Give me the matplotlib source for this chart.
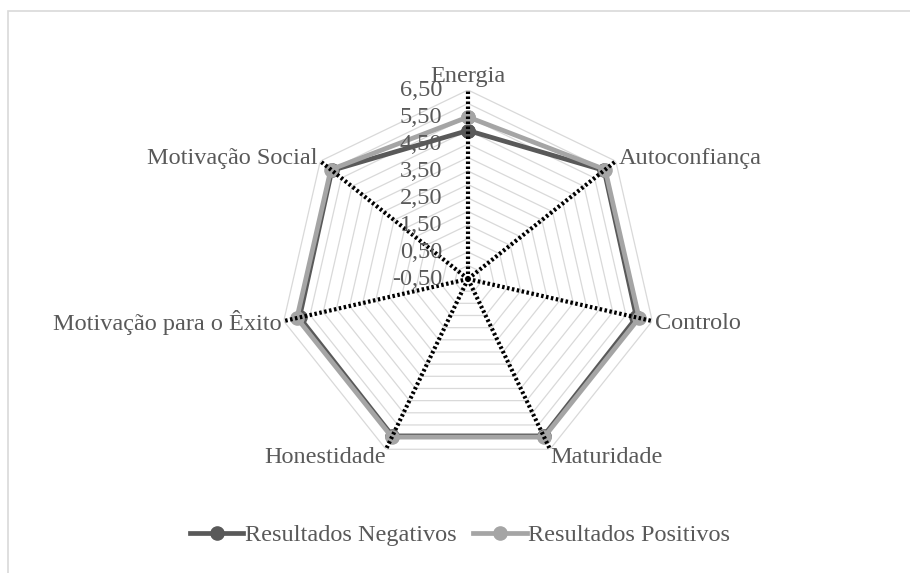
import numpy as np
import matplotlib
matplotlib.use("Agg")
import matplotlib.pyplot as plt
from matplotlib.patches import Rectangle
from matplotlib.transforms import offset_copy

# data
categorias = ['Energia', 'Autoconfiança', 'Controlo', 'Maturidade',
              'Honestidade', 'Motivação para o Êxito', 'Motivação Social']
negativos = [5.0, 5.95, 5.9, 5.95, 5.95, 5.9, 5.95]
positivos = [5.5, 6.0, 6.0, 6.0, 6.0, 6.0, 6.0]
niveis_grelha = [-0.5, 0.0, 0.5, 1.0, 1.5, 2.0, 2.5, 3.0, 3.5, 4.0, 4.5, 5.0, 5.5, 6.0, 6.5]
niveis_rotulo = [-0.5, 0.5, 1.5, 2.5, 3.5, 4.5, 5.5, 6.5]

plt.rcParams['font.family'] = ['Liberation Serif', 'DejaVu Serif']
cor_texto = '#595959'
fs = 17.5

n = len(categorias)
ang = np.arange(n) * 2 * np.pi / n
ang_f = np.append(ang, ang[0])

fig = plt.figure(figsize=(9.1, 5.73), dpi=100)
fig.patches.append(Rectangle((8 / 910, -0.1), 1.2, 1 - 11 / 573 + 0.1,
                             transform=fig.transFigure, fill=False,
                             edgecolor='#d9d9d9', lw=1.2))

cx, cy = 468 / 910, 1 - 279 / 573
w, h = 2 * 189 / 910, 2 * 189 / 573
ax = fig.add_axes([cx - w / 2, cy - h / 2, w, h], projection='polar')
ax.set_theta_zero_location('N')
ax.set_theta_direction(-1)
ax.set_ylim(-0.5, 6.5)
ax.grid(False)
ax.spines['polar'].set_visible(False)
ax.set_xticks([])
ax.set_yticks([])
ax.patch.set_alpha(0)

# polygon gridlines
for lv in niveis_grelha:
    ax.plot(ang_f, [lv] * (n + 1), color='#d9d9d9', lw=0.9, zorder=1)

# series
neg = np.append(negativos, negativos[0])
pos = np.append(positivos, positivos[0])
ax.plot(ang_f, neg, color='#595959', lw=3.4, marker='o', ms=9.5,
        label='Resultados Negativos', zorder=3, clip_on=False)
ax.plot(ang_f, pos, color='#a5a5a5', lw=3.4, marker='o', ms=9.5,
        label='Resultados Positivos', zorder=4, clip_on=False)

# spokes
for a in ang:
    ax.plot([a, a], [-0.5, 6.5], color='black', lw=3.0,
            linestyle=(0, (0.6, 0.6)), zorder=5, clip_on=False)

# radial labels
tr = offset_copy(ax.transData, fig=fig, x=-26, y=0, units='dots')
for lv in niveis_rotulo:
    ax.text(0, lv, f'{lv:.2f}'.replace('.', ','), transform=tr,
            ha='right', va='center', fontsize=fs, color=cor_texto, zorder=6)

# category labels
posicoes = [('center', 'bottom', 0, 3),
            ('left', 'center', 3, 3),
            ('left', 'center', 3, -2),
            ('left', 'top', 0, 2),
            ('right', 'top', 0, 2),
            ('right', 'center', -2, -1),
            ('right', 'center', -3, 3)]
for a, nome, (ha, va, dx, dy) in zip(ang, categorias, posicoes):
    t = offset_copy(ax.transData, fig=fig, x=dx, y=dy, units='dots')
    ax.text(a, 6.5, nome, transform=t, ha=ha, va=va, fontsize=fs,
            color=cor_texto)

fig.legend(loc='center', bbox_to_anchor=(460 / 910, 1 - 535 / 573), ncol=2,
           frameon=False, fontsize=fs, handlelength=2.2, handletextpad=0.05,
           columnspacing=0.7, labelcolor=cor_texto)

fig.savefig('out.png', dpi=100)
